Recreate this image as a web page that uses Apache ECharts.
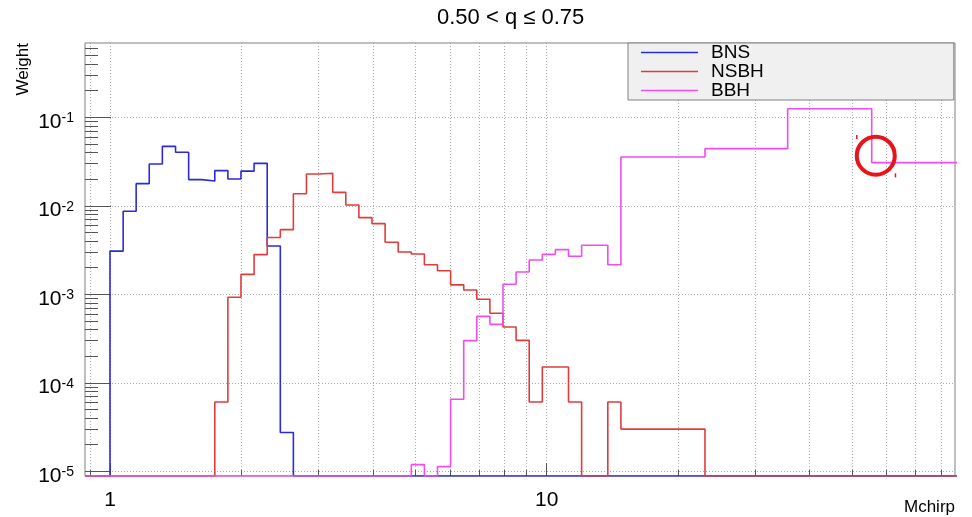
<!DOCTYPE html>
<html>
<head>
<meta charset="utf-8">
<script src="https://cdn.jsdelivr.net/npm/echarts@6.0.0/dist/echarts.min.js"></script>
<style>
  html, body { margin: 0; padding: 0; background: #ffffff; }
  #chart { width: 972px; height: 517px; }
</style>
</head>
<body>
<div id="chart"></div>
<script>
// ---------------- data ----------------
const chartTitle = '0.50 < q \u2264 0.75';
const seriesNames = ['BNS', 'NSBH', 'BBH'];

// Mchirp bin edges (log-spaced fine bins, then wide bins)
const binEdges = [
  1.000, 1.072, 1.148, 1.230, 1.318, 1.413, 1.514, 1.622, 1.738, 1.862,
  1.995, 2.138, 2.291, 2.455, 2.630, 2.818, 3.020, 3.236, 3.467, 3.715,
  3.981, 4.266, 4.571, 4.898, 5.248, 5.623, 6.026, 6.457, 6.918, 7.413,
  7.943, 8.511, 9.120, 9.772, 10.471, 11.220, 12.023, 12.882, 13.804, 14.791,
  23.04, 35.63, 55.5, 90.0
];

// Weight per bin (0 = empty bin)
const bnsWeights = [
  3.08e-3, 8.7e-3, 1.78e-2, 2.97e-2, 4.70e-2, 4.03e-2, 1.98e-2, 1.91e-2, 2.50e-2, 2.01e-2,
  2.47e-2, 3.02e-2, 3.51e-3, 2.74e-5, 0, 0, 0, 0, 0, 0,
  0, 0, 0, 0, 0, 0, 0, 0, 0, 0,
  0, 0, 0, 0, 0, 0, 0, 0, 0, 0,
  0, 0, 0
];
const nsbhWeights = [
  0, 0, 0, 0, 0, 0, 0, 0, 6.07e-5, 9.25e-4,
  1.68e-3, 2.81e-3, 4.38e-3, 5.38e-3, 1.37e-2, 2.29e-2, 2.33e-2, 1.42e-2, 1.02e-2, 7.35e-3,
  6.29e-3, 3.87e-3, 3.01e-3, 2.85e-3, 2.16e-3, 1.85e-3, 1.28e-3, 1.12e-3, 8.79e-4, 6.10e-4,
  4.27e-4, 3.02e-4, 6.07e-5, 1.51e-4, 1.51e-4, 6.07e-5, 0, 0, 6.07e-5, 3.0e-5,
  0, 0, 0
];
const bbhWeights = [
  0, 0, 0, 0, 0, 0, 0, 0, 0, 0,
  0, 0, 0, 0, 0, 0, 0, 0, 0, 0,
  0, 0, 0, 1.19e-5, 0, 1.13e-5, 6.52e-5, 3.0e-4, 5.64e-4, 4.58e-4,
  1.30e-3, 1.79e-3, 2.44e-3, 2.83e-3, 3.20e-3, 2.69e-3, 3.58e-3, 3.58e-3, 2.16e-3, 3.56e-2,
  4.43e-2, 0.125, 3.08e-2
];

// tick values
const xMajorTicks = [1, 10];
const xMinorTicks = [0.9, 2, 3, 4, 5, 6, 7, 8, 9, 20, 30, 40, 50, 60, 70, 80];
const yMajorTicks = [1e-5, 1e-4, 1e-3, 1e-2, 1e-1];
const yMinorTicks = [
  2e-5, 3e-5, 4e-5, 5e-5, 6e-5, 7e-5, 8e-5, 9e-5,
  2e-4, 3e-4, 4e-4, 5e-4, 6e-4, 7e-4, 8e-4, 9e-4,
  2e-3, 3e-3, 4e-3, 5e-3, 6e-3, 7e-3, 8e-3, 9e-3,
  2e-2, 3e-2, 4e-2, 5e-2, 6e-2, 7e-2, 8e-2, 9e-2,
  0.2, 0.3, 0.4, 0.5, 0.6
];

// axis ranges
const X_MIN = 0.8766, X_MAX = 86.1;
const Y_MIN = 8.85e-6, Y_MAX = 0.692;

// ---------------- build ----------------
function toSteps(values) {
  const pts = [[X_MIN, Y_MIN]];
  values.forEach(function (v, i) { pts.push([binEdges[i], v > 0 ? v : Y_MIN]); });
  const lastEdge = binEdges[values.length];
  pts.push([lastEdge, Y_MIN]);
  if (lastEdge < X_MAX) pts.push([X_MAX, Y_MIN]);
  return pts;
}

const FONT = 'Liberation Sans';
const colors = ['#2b2bd9', '#e03c3c', '#f04cf0'];
const gridLine = { show: true, lineStyle: { color: '#aaaaaa', width: 1, type: [1, 2] } };
const tickColor = '#555555';

const annotRed = '#e8141a';
const circleAt = [56.7, 0.0369];
const markA = [51.3, 0.060];
const markB = [62.9, 0.0221];

const chart = echarts.init(document.getElementById('chart'), null, { renderer: 'canvas' });
const option = {
  animation: false,
  textStyle: { fontFamily: FONT },
  title: {
    text: chartTitle,
    left: 437, top: 7, padding: 0,
    textStyle: { fontFamily: FONT, fontSize: 22, fontWeight: 'normal', color: '#000', lineHeight: 22 }
  },
  legend: {
    data: seriesNames,
    orient: 'vertical',
    left: 628, top: 43,
    padding: [0, 190, 0, 13],
    itemGap: 0,
    icon: 'rect',
    itemWidth: 57, itemHeight: 1.5,
    backgroundColor: '#f0f0f0',
    borderColor: '#808080', borderWidth: 1, borderRadius: 0,
    selectedMode: false,
    textStyle: { fontFamily: FONT, fontSize: 19, lineHeight: 18, color: '#000', padding: [0, 0, 0, 8] }
  },
  grid: {
    left: 85, right: 17, top: 43, bottom: 41,
    show: true, borderColor: '#808080', borderWidth: 1, backgroundColor: 'transparent',
    containLabel: false
  },
  xAxis: [
    {
      type: 'log', logBase: 10, min: X_MIN, max: X_MAX, position: 'bottom',
      axisLine: { show: false },
      axisTick: { show: true, inside: true, length: 13, customValues: xMajorTicks, lineStyle: { color: tickColor } },
      axisLabel: {
        customValues: xMajorTicks, margin: 14, fontSize: 21, lineHeight: 21, color: '#000', fontFamily: FONT,
        formatter: function (v) { return String(Math.round(v)); }
      },
      splitLine: gridLine,
      name: 'Mchirp', nameLocation: 'end', nameGap: 0,
      nameTextStyle: { fontFamily: FONT, fontSize: 17, lineHeight: 17, color: '#000', align: 'right', verticalAlign: 'top', padding: [23, 0, 0, 0] }
    },
    {
      type: 'log', logBase: 10, min: X_MIN, max: X_MAX, position: 'bottom',
      axisLine: { show: false },
      axisTick: { show: true, inside: true, length: 6, customValues: xMinorTicks, lineStyle: { color: tickColor } },
      axisLabel: { show: false },
      splitLine: gridLine
    }
  ],
  yAxis: [
    {
      type: 'log', logBase: 10, min: Y_MIN, max: Y_MAX, position: 'left',
      axisLine: { show: false },
      axisTick: { show: true, inside: true, length: 26, customValues: yMajorTicks, lineStyle: { color: tickColor } },
      axisLabel: {
        customValues: yMajorTicks, margin: 11, color: '#000', fontFamily: FONT,
        formatter: function (v) { return '{b|10}{s|' + Math.round(Math.log10(v)) + '}'; },
        rich: {
          b: { fontSize: 21, lineHeight: 22, verticalAlign: 'top', padding: [5, 0, 0, 0], fontFamily: FONT, color: '#000' },
          s: { fontSize: 14, lineHeight: 14, verticalAlign: 'top', padding: [5, 0, 0, 0], fontFamily: FONT, color: '#000' }
        }
      },
      splitLine: gridLine,
      name: 'Weight', nameLocation: 'end', nameGap: 0, nameRotate: 90,
      nameTextStyle: { fontFamily: FONT, fontSize: 17, lineHeight: 17, color: '#000', align: 'right', verticalAlign: 'bottom', padding: [0, 0, 53, 0] }
    },
    {
      type: 'log', logBase: 10, min: Y_MIN, max: Y_MAX, position: 'left',
      axisLine: { show: false },
      axisTick: { show: true, inside: true, length: 13, customValues: yMinorTicks, lineStyle: { color: tickColor } },
      axisLabel: { show: false },
      splitLine: { show: false }
    }
  ],
  series: [
    {
      name: seriesNames[0], type: 'line', step: 'end', symbol: 'none', silent: true,
      xAxisIndex: 0, yAxisIndex: 0,
      data: toSteps(bnsWeights),
      lineStyle: { color: colors[0], width: 1.6 }, itemStyle: { color: colors[0] }
    },
    {
      name: seriesNames[1], type: 'line', step: 'end', symbol: 'none', silent: true,
      xAxisIndex: 0, yAxisIndex: 0,
      data: toSteps(nsbhWeights),
      lineStyle: { color: colors[1], width: 1.6 }, itemStyle: { color: colors[1] }
    },
    {
      name: seriesNames[2], type: 'line', step: 'end', symbol: 'none', silent: true,
      xAxisIndex: 0, yAxisIndex: 0,
      data: toSteps(bbhWeights),
      lineStyle: { color: colors[2], width: 1.6 }, itemStyle: { color: colors[2] },
      markPoint: {
        silent: true,
        label: { show: false },
        data: [
          { coord: circleAt, symbol: 'circle', symbolSize: 38,
            itemStyle: { color: 'rgba(0,0,0,0)', borderColor: annotRed, borderWidth: 4 } },
          { coord: markA, symbol: 'rect', symbolSize: [1.5, 4], itemStyle: { color: annotRed, borderWidth: 0 } },
          { coord: markB, symbol: 'rect', symbolSize: [1.5, 4], itemStyle: { color: annotRed, borderWidth: 0 } }
        ]
      }
    }
  ]
};
chart.setOption(option);
</script>
</body>
</html>
